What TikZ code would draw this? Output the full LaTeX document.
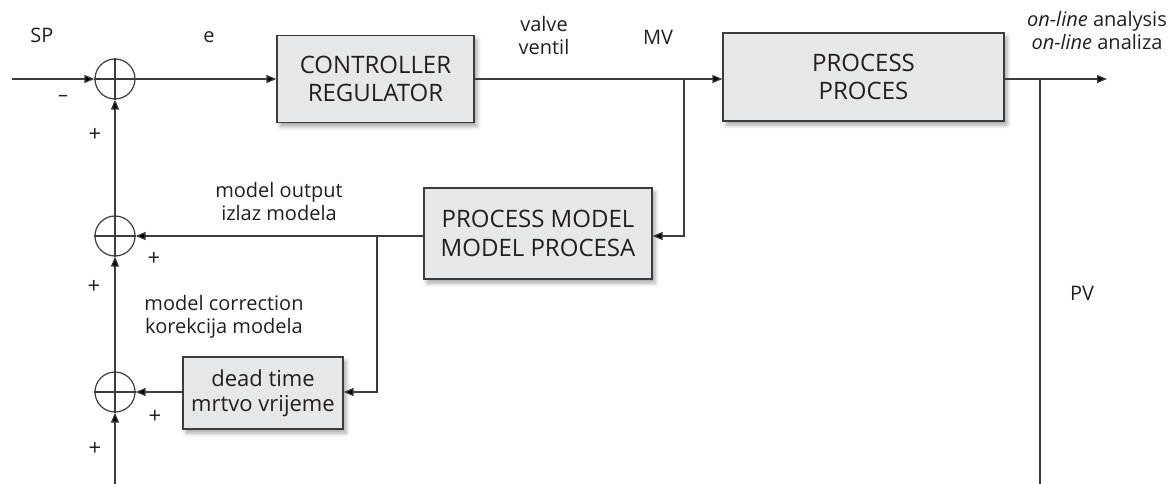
\documentclass[tikz,border=0pt]{standalone}
\usepackage{fontspec}
\setmainfont{Open Sans}
\usetikzlibrary{arrows.meta,shadows.blur}
\definecolor{linec}{HTML}{3C3C3C}
\definecolor{boxc}{HTML}{E6E7E8}
\definecolor{txtc}{HTML}{231F20}
\begin{document}
\begin{tikzpicture}[x=1pt,y=-1pt,
  line/.style={draw=linec, line width=1.2pt},
  arr/.style={line, -{Triangle[length=10pt,width=8pt,fill=black]}},
  blk/.style={draw=linec, line width=1.2pt, fill=boxc, inner sep=0pt, align=center,
     text=txtc, font=\fontsize{24}{28.5}\selectfont,
     blur shadow={shadow xshift=3pt, shadow yshift=-4pt, shadow blur radius=4pt, shadow opacity=35}},
  sumj/.style={circle, draw=linec, line width=1.2pt, minimum size=40pt, inner sep=0pt},
  lbl/.style={text=txtc, font=\fontsize{20}{23}\selectfont, align=center, inner sep=0pt, anchor=base},
  sgn/.style={text=txtc, font=\fontsize{22}{24}\selectfont, inner sep=0pt}
]
\useasboundingbox (0,0) rectangle (1175,484);

% summing junctions
\node[sumj] (s1) at (115,79) {};
\node[sumj] (s2) at (115,236) {};
\node[sumj] (s3) at (115,392) {};
\foreach \s in {s1,s2,s3}{
  \draw[line] (\s.north) -- (\s.south) (\s.west) -- (\s.east);
}

% blocks
\node[blk, minimum width=197pt, minimum height=87pt] (ctrl) at (375.5,79) {CONTROLLER\\REGULATOR};
\node[blk, minimum width=281pt, minimum height=88pt] (proc) at (863.5,77) {PROCESS\\PROCES};
\node[blk, minimum width=228pt, minimum height=91pt] (model) at (538,233.5) {PROCESS MODEL\\MODEL PROCESA};
\node[blk, minimum width=160pt, minimum height=72pt, font=\fontsize{22}{25}\selectfont] (dead) at (263,393) {dead time\\mrtvo vrijeme};

% coordinates
\coordinate (spin) at (12,79);
\coordinate (mvj) at (684,79);
\coordinate (pvj) at (1040,79);
\coordinate (pvend) at (1040,484);
\coordinate (out) at (1107,79);
\coordinate (moj) at (377,236);
\coordinate (bot) at (115,484);

% connectors
\draw[arr] (spin) -- (s1.west);
\draw[arr] (s1.east) -- (ctrl.west |- s1);
\draw[arr] (ctrl.east |- s1) -- (proc.west |- s1);
\draw[arr] (mvj) |- (model.east |- s2);
\draw[arr] (proc.east |- s1) -- (out);
\draw[line] (pvj) -- (pvend);
\draw[arr] (model.west |- s2) -- (s2.east);
\draw[arr] (moj) |- (dead.east |- s3);
\draw[arr] (dead.west |- s3) -- (s3.east);
\draw[arr] (bot) -- (s3.south);
\draw[arr] (s3.north) -- (s2.south);
\draw[arr] (s2.north) -- (s1.south);

% labels (multi-line: base = last line)
\node[lbl] (sp) at (42,43) {SP};
\node[lbl] (e) at (209,43) {e};
\node[lbl] (valve) at (544,55) {valve\\ventil};
\node[lbl] (mv) at (658,45) {MV};
\node[lbl] (online) at (1097,50) {\textit{on-line} analysis\\\textit{on-line} analiza};
\node[lbl] (pv) at (1082,300) {PV};
\node[lbl] (mout) at (279,220) {model output\\izlaz modela};
\node[lbl] (mcor) at (224,333) {model correction\\korekcija modela};

% signs
\node[sgn, font=\fontsize{20}{24}\selectfont] (m1) at (63,98) {–};
\node[sgn] (p1) at (95,135) {+};
\node[sgn] (p2) at (154,259) {+};
\node[sgn] (p3) at (94,287) {+};
\node[sgn] (p4) at (155,417) {+};
\node[sgn] (p5) at (95,449) {+};
\end{tikzpicture}
\end{document}
